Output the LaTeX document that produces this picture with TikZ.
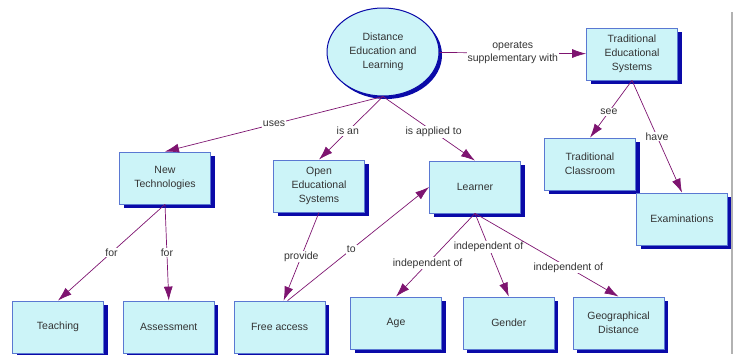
\documentclass[tikz,border=0pt]{standalone}
\usepackage{fontspec}
\setmainfont{Liberation Sans}
\usetikzlibrary{arrows.meta,positioning,shapes.geometric,shadows}
\definecolor{conceptfill}{HTML}{CCF4F8}
\definecolor{conceptline}{HTML}{5A78D2}
\definecolor{conceptshadow}{HTML}{0A0AA8}
\definecolor{linkpurple}{HTML}{7E1470}
\tikzset{
  concept/.style={draw=conceptline,fill=conceptfill,line width=.8pt,align=center,font=\fontsize{10.5}{14}\selectfont,text=black!80,minimum width=91pt,minimum height=52pt,inner sep=2pt,general shadow={fill=conceptshadow,shadow xshift=4pt,shadow yshift=-4pt}},
  topic/.style={ellipse,draw=conceptshadow,fill=conceptfill,line width=1pt,align=center,font=\fontsize{10.5}{14}\selectfont,text=black!80,minimum width=112pt,minimum height=88pt,inner sep=0pt,general shadow={fill=conceptshadow,shadow xshift=3pt,shadow yshift=-3pt}},
  link/.style={-{Latex[length=14pt,width=9pt]},line width=.7pt,draw=linkpurple},
  lbl/.style={fill=white,inner sep=1pt,font=\fontsize{10.5}{13}\selectfont,text=black!80,align=center}
}
\begin{document}
\begin{tikzpicture}[x=1pt,y=-1pt]
  \clip (0,0) rectangle (734,354);
  \node[topic] (dist) at (383,52) {Distance\\Education and\\Learning};
  \node[concept] (tes) at (632,54) {Traditional\\Educational\\Systems};
  \node[concept] (newtech) at (165,178) {New\\Technologies};
  \node[concept] (open) at (319,186) {Open\\Educational\\Systems};
  \node[concept] (learner) at (475,187) {Learner};
  \node[concept] (tclass) at (590,164) {Traditional\\Classroom};
  \node[concept] (exam) at (682,219) {Examinations};
  \node[concept] (teaching) at (58,327) {Teaching};
  \node[concept,right=19pt of teaching] (assess) {Assessment};
  \node[concept,right=19pt of assess] (free) {Free access};
  \node[concept] (age) at (396,323) {Age};
  \node[concept,right=21pt of age] (gender) {Gender};
  \node[concept,right=18pt of gender] (geo) {Geographical\\Distance};
  \draw[link] (dist) -- node[lbl]{operates\\supplementary with} (tes);
  \draw[link] (dist.south) -- node[lbl]{uses} (newtech.north);
  \draw[link] (dist.south) -- node[lbl,pos=.55]{is an} (open.north);
  \draw[link] (dist.south) -- node[lbl,pos=.55]{is applied to} (learner.north);
  \draw[link] (newtech.south) -- node[lbl]{for} (teaching.north);
  \draw[link] (newtech.south) -- node[lbl]{for} (assess.north);
  \draw[link] (open.south) -- node[lbl]{provide} ([xshift=4pt]free.north);
  \draw[link] ([xshift=8pt]free.north) -- node[lbl,pos=.45]{to} (learner.west);
  \draw[link] (learner.south) -- node[lbl,pos=.6]{independent of} (age.north);
  \draw[link] (learner.south) -- node[lbl,pos=.4]{independent of} (gender.north);
  \draw[link] (learner.south) -- node[lbl,pos=.65]{independent of} (geo.north);
  \draw[link] (tes.south) -- node[lbl,pos=.55]{see} (tclass.north);
  \draw[link] (tes.south) -- node[lbl]{have} (exam.north);
  % frame edge on the right
  \draw[gray!60,line width=1.5pt] (732,12) -- (732,354);
\end{tikzpicture}
\end{document}
